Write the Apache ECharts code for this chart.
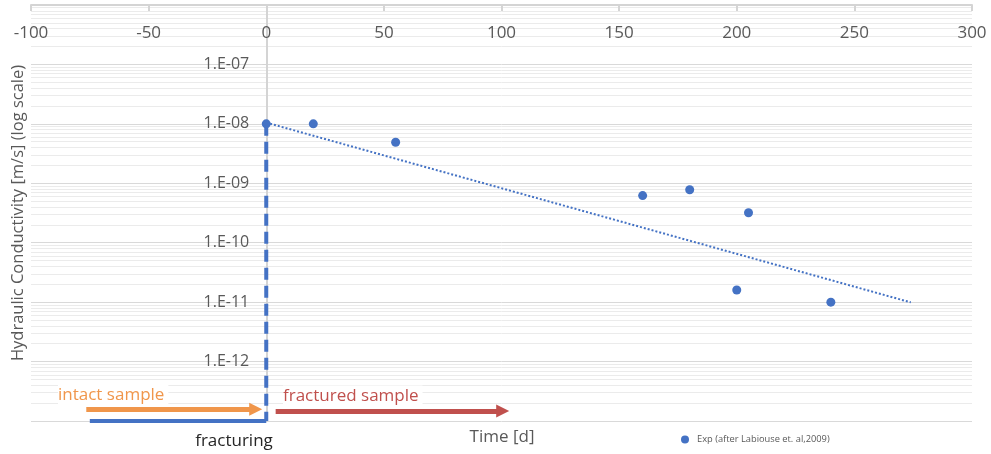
<!DOCTYPE html>
<html>
<head>
<meta charset="utf-8">
<script src="https://cdn.jsdelivr.net/npm/echarts@6/dist/echarts.min.js"></script>
<style>
  html, body { margin: 0; padding: 0; background: #fff; }
  #chart { width: 991px; height: 454px; }
</style>
</head>
<body>
<div id="chart"></div>
<script>
// measured values (time in days, conductivity in m/s)
const expTime = [0, 20, 55, 160, 180, 205, 200, 240];
const expK = [1e-8, 1.0e-8, 4.9e-9, 6.2e-10, 7.8e-10, 3.2e-10, 1.6e-11, 1.0e-11];

// exponential trendline, two ends
const trendTime = [0, 274];
const trendK = [1.05e-8, 9.9e-12];

// fracturing marker
const fracTime = [0, 0];
const fracK = [1e-8, 1e-13];
const baseTime = [-75, 0];
const baseK = [1e-13, 1e-13];

// annotation arrows
const intactArrow = { from: [-76.5, 1.58e-13], to: [-4.5, 1.58e-13] };
const fracturedArrow = { from: [4, 1.47e-13], to: [100.5, 1.47e-13] };

const xTicks = { min: -100, max: 300, step: 50 };
const yDecades = { min: 1e-13, max: 1e-6 };
const minorMult = [2, 3, 4, 5, 6, 7, 8, 9];

const zip = (a, b) => a.map((v, i) => [v, b[i]]);

const chart = echarts.init(document.getElementById('chart'));

const BLUE = '#4472c4';
const GREY = '#595959';
const FONT = 'Open Sans';

const GRID_LEFT = 31;
const GRID_RIGHT = 19;
// the value axis sits on x = 0, which is 1/4 of the way across
const yAxisOffset = -((991 - GRID_LEFT - GRID_RIGHT) * (0 - xTicks.min) / (xTicks.max - xTicks.min));

// minor log gridlines (2..9 x 10^n), drawn edge to edge
const minorLines = [];
for (let e = -13; e < -6; e++) {
    minorMult.forEach((m) => {
        const v = m * Math.pow(10, e);
        minorLines.push([{ coord: [xTicks.min, v] }, { coord: [xTicks.max, v] }]);
    });
}

const arrowLine = (a, color) => ({
    type: 'line',
    data: [],
    silent: true,
    markLine: {
        silent: true,
        z: 4,
        symbol: ['none', 'triangle'],
        symbolSize: 13,
        label: { show: false },
        lineStyle: { color, width: 5, type: 'solid' },
        emphasis: { disabled: true },
        data: [[{ coord: a.from }, { coord: a.to }]]
    }
});

const option = {
    animation: false,
    textStyle: { fontFamily: FONT },
    grid: { left: GRID_LEFT, right: GRID_RIGHT, top: 5, bottom: 33, outerBoundsMode: 'none', containLabel: false },
    legend: {
        data: ['Exp (after Labiouse et. al,2009)'],
        left: 676,
        top: 430,
        icon: 'circle',
        itemWidth: 8,
        itemHeight: 8,
        textStyle: { fontSize: 9.3, color: GREY, padding: [0, 0, 0, 3] }
    },
    xAxis: {
        type: 'value',
        position: 'top',
        min: xTicks.min,
        max: xTicks.max,
        interval: xTicks.step,
        axisLine: { onZero: false, lineStyle: { color: '#d4d4d4', width: 2 } },
        axisTick: { inside: true, length: 6, lineStyle: { color: '#d4d4d4', width: 2 } },
        axisLabel: { inside: true, margin: 20, color: GREY, fontSize: 17 },
        splitLine: { show: false }
    },
    yAxis: {
        type: 'log',
        logBase: 10,
        min: yDecades.min,
        max: yDecades.max,
        splitNumber: 7,
        offset: yAxisOffset,
        axisLine: { show: true, onZero: false, lineStyle: { color: '#d4d4d4', width: 2 } },
        axisTick: { show: true, length: 4, lineStyle: { color: '#d4d4d4' } },
        axisLabel: {
            color: GREY,
            fontSize: 16,
            margin: 17,
            formatter: (v) => {
                const e = Math.round(Math.log10(v));
                if (e <= -13 || e >= -6) return '';
                return '1.E' + (e < 0 ? '-' : '+') + String(Math.abs(e)).padStart(2, '0');
            }
        },
        splitLine: { lineStyle: { color: '#d9d9d9', width: 1 } }
    },
    series: [
        {
            type: 'line',
            data: [],
            silent: true,
            z: 0,
            markLine: {
                silent: true,
                z: 0,
                symbol: 'none',
                label: { show: false },
                lineStyle: { color: '#ebebeb', width: 1, type: 'solid' },
                emphasis: { disabled: true },
                data: minorLines
            }
        },
        {
            name: 'trend',
            type: 'line',
            data: zip(trendTime, trendK),
            symbol: 'none',
            silent: true,
            z: 3,
            lineStyle: { color: BLUE, width: 2, type: [2, 2] }
        },
        {
            name: 'fracturing',
            type: 'line',
            data: zip(fracTime, fracK),
            symbol: 'none',
            silent: true,
            z: 3,
            lineStyle: { color: BLUE, width: 4, type: [12, 6] }
        },
        {
            name: 'base',
            type: 'line',
            data: zip(baseTime, baseK),
            symbol: 'none',
            silent: true,
            z: 3,
            lineStyle: { color: BLUE, width: 4 }
        },
        arrowLine(intactArrow, '#f0964b'),
        arrowLine(fracturedArrow, '#c0504d'),
        {
            name: 'Exp (after Labiouse et. al,2009)',
            type: 'scatter',
            data: zip(expTime, expK),
            symbolSize: 9,
            itemStyle: { color: BLUE, opacity: 1 },
            z: 5
        }
    ],
    graphic: [
        {
            type: 'text',
            x: 18,
            y: 213,
            rotation: Math.PI / 2,
            style: {
                text: 'Hydraulic Conductivity [m/s] (log scale)',
                font: '16.5px "Open Sans"',
                fill: GREY,
                align: 'center',
                verticalAlign: 'middle'
            }
        },
        {
            type: 'text',
            x: 58,
            y: 395,
            z: 10,
            style: {
                text: 'intact sample',
                font: '17px "Open Sans"',
                fill: '#f0964b',
                verticalAlign: 'middle',
                backgroundColor: '#fff',
                padding: [2, 4, 2, 0]
            }
        },
        {
            type: 'text',
            x: 283,
            y: 396,
            z: 10,
            style: {
                text: 'fractured sample',
                font: '17px "Open Sans"',
                fill: '#c0504d',
                verticalAlign: 'middle',
                backgroundColor: '#fff',
                padding: [2, 4, 2, 0]
            }
        },
        {
            type: 'text',
            x: 234,
            y: 441,
            style: {
                text: 'fracturing',
                font: '17px "Open Sans"',
                fill: '#262626',
                align: 'center',
                verticalAlign: 'middle'
            }
        },
        {
            type: 'text',
            x: 502,
            y: 437,
            style: {
                text: 'Time [d]',
                font: '17px "Open Sans"',
                fill: GREY,
                align: 'center',
                verticalAlign: 'middle'
            }
        }
    ]
};

chart.setOption(option);
</script>
</body>
</html>
